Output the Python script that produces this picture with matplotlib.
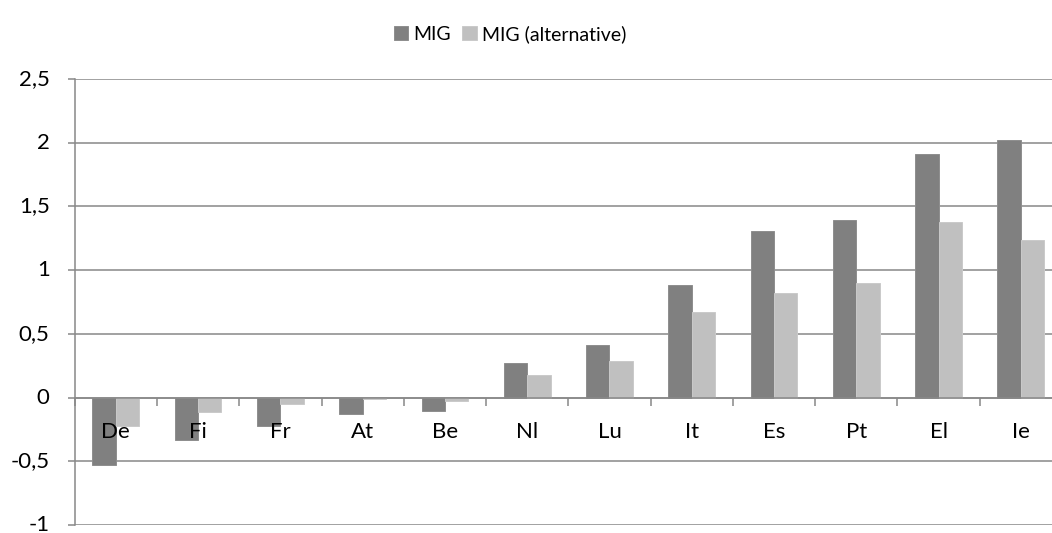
import matplotlib
matplotlib.use("Agg")
import matplotlib.pyplot as plt
import numpy as np

countries = ["De", "Fi", "Fr", "At", "Be", "Nl", "Lu", "It", "Es", "Pt", "El", "Ie"]
mig = [-0.53, -0.335, -0.22, -0.125, -0.105, 0.275, 0.415, 0.885, 1.31, 1.39, 1.915, 2.02]
mig_alt = [-0.225, -0.11, -0.05, -0.015, -0.03, 0.175, 0.29, 0.67, 0.82, 0.90, 1.38, 1.235]
series_names = ["MIG", "MIG (alternative)"]
y_ticks = [-1, -0.5, 0, 0.5, 1, 1.5, 2, 2.5]
y_tick_labels = ["-1", "-0,5", "0", "0,5", "1", "1,5", "2", "2,5"]

plt.rcParams["font.family"] = ["Lato", "DejaVu Sans"]

grid_col = "#888888"
dark = "#808080"
light = "#c0c0c0"

fig = plt.figure(figsize=(10.52, 5.33), dpi=100)
ax = fig.add_axes([74.7 / 1052, 1 - 525 / 533, (1062 - 74.7) / 1052, (525 - 79) / 533])

x = np.arange(len(countries))
w = 0.284
b1 = ax.bar(x - w / 2, mig, w, color=dark, edgecolor="#8e8e8e", linewidth=0.7,
            label=series_names[0], zorder=3)
b2 = ax.bar(x + w / 2, mig_alt, w, color=light, edgecolor="#cacaca", linewidth=0.7,
            label=series_names[1], zorder=3)

ax.set_xlim(-0.5, len(countries) - 0.5)
ax.set_ylim(-1, 2.5)
ax.set_yticks(y_ticks)
ax.set_yticklabels(y_tick_labels)
ax.yaxis.grid(True, color=grid_col, linewidth=1.1, zorder=0)
ax.set_axisbelow(True)

for s in ["top", "right"]:
    ax.spines[s].set_visible(False)
ax.spines["left"].set_color(grid_col)
ax.spines["left"].set_linewidth(1.1)
ax.spines["bottom"].set_position(("data", 0))
ax.spines["bottom"].set_color(grid_col)
ax.spines["bottom"].set_linewidth(1.1)
ax.spines["bottom"].set_zorder(4)

ax.tick_params(axis="y", length=5, width=1.1, color=grid_col, pad=13,
               labelsize=16, labelcolor="black")
for lbl in ax.get_yticklabels():
    lbl.set_verticalalignment("center")

# category boundaries carry the tick marks; names sit just below the zero line
ax.set_xticks(np.arange(len(countries) + 1) - 0.5)
ax.set_xticklabels([])
ax.tick_params(axis="x", length=5.5, width=1.1, color=grid_col, direction="out")
for xi, name in zip(x, countries):
    ax.text(xi, -0.27, name, ha="center", va="center", fontsize=16,
            color="black", zorder=6)

fig.legend(handles=[b1, b2], labels=series_names, loc="center",
           bbox_to_anchor=(510 / 1052, 1 - 34 / 533), ncol=2, frameon=False,
           fontsize=14, handlelength=0.75, handleheight=0.75, handletextpad=0.25,
           columnspacing=0.6)

fig.savefig("out.png", dpi=100, facecolor="white")
